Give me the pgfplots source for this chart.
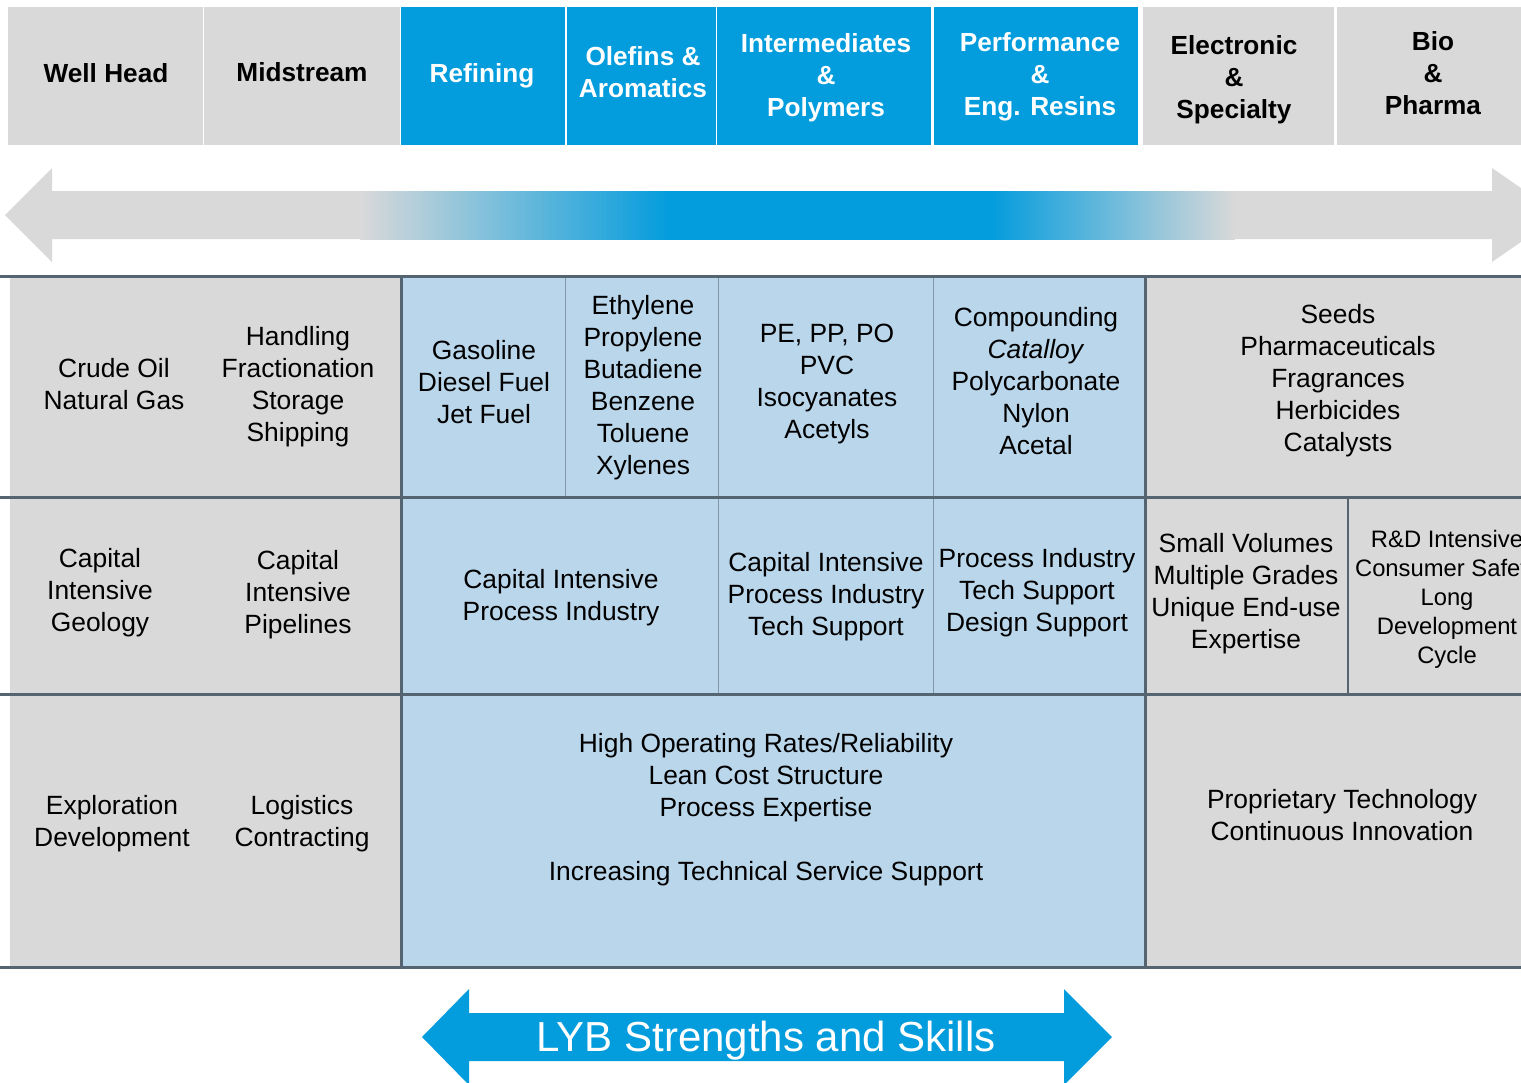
\documentclass[border=0pt]{standalone}
\usepackage{pgfplots}
\pgfplotsset{compat=1.18}
\usepackage{fontspec}
\setmainfont{Liberation Sans}
\definecolor{gr}{HTML}{D9D9D9}
\definecolor{hb}{HTML}{039CDD}
\definecolor{lb}{HTML}{BAD6EB}
\definecolor{bd}{HTML}{546471}
\definecolor{tl}{HTML}{8495A5}
\pgfdeclarehorizontalshading{arrgrad}{100bp}{color(0bp)=(gr); color(25bp)=(gr); color(42.7bp)=(hb); color(61bp)=(hb); color(75bp)=(gr); color(100bp)=(gr)}
\newcommand{\bodyf}{\fontsize{13.2pt}{16pt}\selectfont}
\newcommand{\headf}{\fontsize{13.1pt}{16pt}\selectfont\bfseries}
\begin{document}
\begin{tikzpicture}
\useasboundingbox (0,0) rectangle (760.5pt,541pt);
\clip (0,0) rectangle (760.5pt,541pt);
\begin{axis}[hide axis, scale only axis, x=0.5pt, y=0.5pt, y dir=reverse,
  xmin=0, xmax=1521, ymin=0, ymax=1082, at={(0,0)}, anchor=south west]
% header cells
\addplot[fill=gr, draw=none] coordinates {(8,7) (203,7) (203,145) (8,145)} -- cycle;
\addplot[fill=gr, draw=none] coordinates {(204,7) (400,7) (400,145) (204,145)} -- cycle;
\addplot[fill=hb, draw=none] coordinates {(401,7) (565,7) (565,145) (401,145)} -- cycle;
\addplot[fill=hb, draw=none] coordinates {(567,7) (716,7) (716,145) (567,145)} -- cycle;
\addplot[fill=hb, draw=none] coordinates {(717,7) (931,7) (931,145) (717,145)} -- cycle;
\addplot[fill=hb, draw=none] coordinates {(934,7) (1138,7) (1138,145) (934,145)} -- cycle;
\addplot[fill=gr, draw=none] coordinates {(1143,7) (1334,7) (1334,145) (1143,145)} -- cycle;
\addplot[fill=gr, draw=none] coordinates {(1337,7) (1521,7) (1521,145) (1337,145)} -- cycle;
% top double arrow
\addplot[fill=gr, draw=none] coordinates {(5,215) (52,168) (52,191) (1492,191) (1492,168) (1560,215) (1492,262) (1492,239) (52,239) (52,262)} -- cycle;
\shade[shading=arrgrad] (axis cs:360,191) rectangle (axis cs:1235,239);
% table fills
\addplot[fill=gr, draw=none] coordinates {(10,276) (401,276) (401,967) (10,967)} -- cycle;
\addplot[fill=lb, draw=none] coordinates {(401,276) (1145,276) (1145,967) (401,967)} -- cycle;
\addplot[fill=gr, draw=none] coordinates {(1145,276) (1521,276) (1521,967) (1145,967)} -- cycle;
% thin lines
\addplot[tl, line width=0.5pt] coordinates {(565,276) (565,497)};
\addplot[tl, line width=0.5pt] coordinates {(718,276) (718,694)};
\addplot[tl, line width=0.5pt] coordinates {(933,276) (933,694)};
\addplot[bd, line width=1pt] coordinates {(1348,497) (1348,694)};
% thick lines
\addplot[bd, line width=1.5pt] coordinates {(0,276.5) (1521,276.5)};
\addplot[bd, line width=1.5pt] coordinates {(0,497) (1521,497)};
\addplot[bd, line width=1.5pt] coordinates {(0,694) (1521,694)};
\addplot[bd, line width=1.5pt] coordinates {(0,967) (1521,967)};
\addplot[bd, line width=1.5pt] coordinates {(401,276) (401,967)};
\addplot[bd, line width=1.5pt] coordinates {(1145,276) (1145,967)};
% bottom arrow
\addplot[fill=hb, draw=none] coordinates {(422,1037) (469,989) (469,1013) (1064,1013) (1064,989) (1112,1037) (1064,1085) (1064,1061) (469,1061) (469,1085)} -- cycle;
% header text
\begin{scope}[every node/.style={align=center, inner sep=0pt, font=\headf}]
\node at (axis cs:106,73) {Well Head};
\node at (axis cs:302,72) {Midstream};
\node[white] at (axis cs:482,76) {Refining};
\node[white] at (axis cs:643,72) {Olefins \&\\Aromatics};
\node[white] at (axis cs:826,78) {Intermediates\\\&\\Polymers};
\node[white] at (axis cs:1040,77) {Performance\\\&\\Eng. Resins};
\node at (axis cs:1234,80) {Electronic\\\&\\Specialty};
\node at (axis cs:1433,73) {Bio\\\&\\Pharma};
\end{scope}
% body text
\begin{scope}[every node/.style={align=center, inner sep=0pt, font=\bodyf}]
\node at (axis cs:114,384) {Crude Oil\\Natural Gas};
\node at (axis cs:298,387) {Handling\\Fractionation\\Storage\\Shipping};
\node at (axis cs:484,382) {Gasoline\\Diesel Fuel\\Jet Fuel};
\node at (axis cs:643,388) {Ethylene\\Propylene\\Butadiene\\Benzene\\Toluene\\Xylenes};
\node at (axis cs:827,384) {PE, PP, PO\\PVC\\Isocyanates\\Acetyls};
\node at (axis cs:1036,381) {Compounding\\\textit{Catalloy}\\Polycarbonate\\Nylon\\Acetal};
\node at (axis cs:1338,381) {Seeds\\Pharmaceuticals\\Fragrances\\Herbicides\\Catalysts};
\node at (axis cs:100,593) {Capital\\Intensive\\Geology};
\node at (axis cs:298,595) {Capital\\Intensive\\Pipelines};
\node at (axis cs:561,598) {Capital Intensive\\Process Industry};
\node at (axis cs:826,597) {Capital Intensive\\Process Industry\\Tech Support};
\node at (axis cs:1037,593) {Process Industry\\Tech Support\\Design Support};
\node at (axis cs:1246,594) {Small Volumes\\Multiple Grades\\Unique End-use\\Expertise};
\node[font=\fontsize{11.9pt}{14.5pt}\selectfont] at (axis cs:1447,599) {R\&D Intensive\\Consumer Safety\\Long\\Development\\Cycle};
\node at (axis cs:112,824) {Exploration\\Development};
\node at (axis cs:302,824) {Logistics\\Contracting};
\node at (axis cs:766,810) {High Operating Rates/Reliability\\Lean Cost Structure\\Process Expertise\\[16pt]Increasing Technical Service Support};
\node at (axis cs:1342,815) {Proprietary Technology\\Continuous Innovation};
\end{scope}
\node[white, inner sep=0pt, font=\fontsize{21pt}{25pt}\selectfont] at (axis cs:766,1041) {LYB Strengths and Skills};
\end{axis}
\end{tikzpicture}
\end{document}
